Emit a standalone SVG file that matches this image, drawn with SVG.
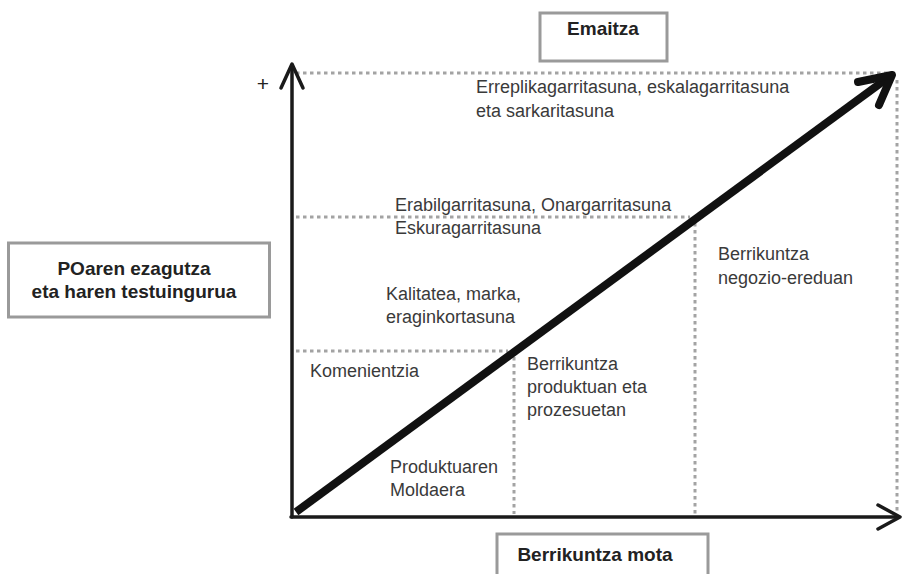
<svg xmlns="http://www.w3.org/2000/svg" width="904" height="574" viewBox="0 0 904 574">
<style>
.box{fill:#fff;stroke:#9a9a9a;stroke-width:3}
.bt{font-family:"Liberation Sans",Arial,sans-serif;font-weight:bold;font-size:19px;fill:#222}
.t{font-family:"Liberation Sans",Arial,sans-serif;font-size:18px;fill:#3a3a3a}
.dot{fill:none;stroke:#a3a3a3;stroke-width:3;stroke-dasharray:3.5 3.5}
.ax{fill:none;stroke:#1a1a1a;stroke-width:3.5;stroke-linecap:round;stroke-linejoin:round}
.diag{fill:none;stroke:#111;stroke-width:8;stroke-linecap:butt;stroke-linejoin:round}
</style>
<rect width="904" height="574" fill="#fff"/>
<g id="connectors">
<path class="dot" d="M296 73H893"/>
<path class="dot" d="M897 80V514"/>
<path class="dot" d="M296 217H690"/>
<path class="dot" d="M695 223V514"/>
<path class="dot" d="M296 351H508"/>
<path class="dot" d="M514 357V514"/>
<path class="ax" d="M292 517V66"/>
<path class="ax" d="M281 88L292 64L303 88"/>
<path class="ax" d="M291 517H898"/>
<path class="ax" d="M878 505L900 517L878 529"/>
<path class="diag" d="M296 512L889 77"/>
<path class="diag" style="stroke-linecap:round" d="M858 82L892 75L879 105"/>
</g>
<g id="node-emaitza">
<rect class="box" x="540" y="13" width="127" height="48"/>
<text class="bt" x="603" y="35" text-anchor="middle">Emaitza</text>
</g>
<g id="node-poaren">
<rect class="box" x="8.5" y="243" width="261" height="74"/>
<text class="bt" x="134" y="275" text-anchor="middle">POaren ezagutza</text>
<text class="bt" x="134" y="298" text-anchor="middle">eta haren testuingurua</text>
</g>
<g id="node-berrikuntza-mota">
<rect class="box" x="497" y="534" width="211" height="60"/>
<text class="bt" x="595" y="561" text-anchor="middle">Berrikuntza mota</text>
</g>
<g id="labels">
<text class="t" x="263" y="91" text-anchor="middle" style="font-size:21px;fill:#222">+</text>
<text class="t" x="476" y="93">Erreplikagarritasuna, eskalagarritasuna</text>
<text class="t" x="476" y="117">eta sarkaritasuna</text>
<text class="t" x="395" y="211">Erabilgarritasuna, Onargarritasuna</text>
<text class="t" x="395" y="234">Eskuragarritasuna</text>
<text class="t" x="386" y="300">Kalitatea, marka,</text>
<text class="t" x="386" y="323">eraginkortasuna</text>
<text class="t" x="310" y="377">Komenientzia</text>
<text class="t" x="527" y="370">Berrikuntza</text>
<text class="t" x="527" y="393">produktuan eta</text>
<text class="t" x="527" y="416">prozesuetan</text>
<text class="t" x="390" y="473">Produktuaren</text>
<text class="t" x="390" y="496">Moldaera</text>
<text class="t" x="718" y="260">Berrikuntza</text>
<text class="t" x="718" y="284">negozio-ereduan</text>
</g>
</svg>
